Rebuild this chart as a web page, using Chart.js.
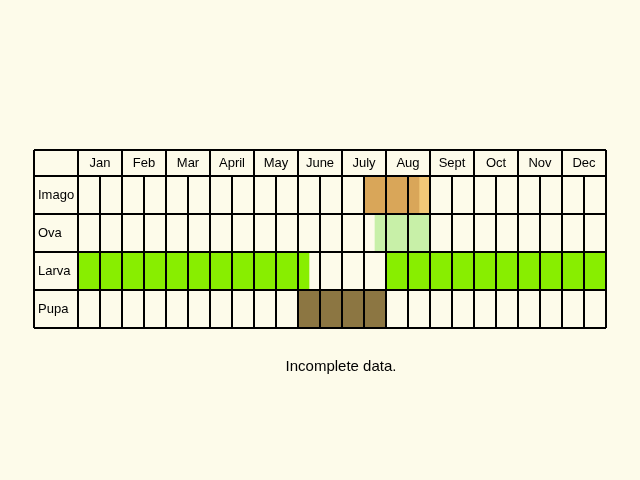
<!DOCTYPE html>
<html>
<head>
<meta charset="utf-8">
<script src="https://cdn.jsdelivr.net/npm/chart.js@4"></script>
<style>
  html, body { margin: 0; padding: 0; background: #fdfbea; }
  #wrap { width: 640px; height: 480px; position: relative; }
</style>
</head>
<body>
<div id="wrap"><canvas id="c" width="640" height="480"></canvas></div>
<script>
// rows and months; x values in half-month steps (Jan = 0..2)
const rows = ["Imago", "Ova", "Larva", "Pupa"];
const months = ["Jan", "Feb", "Mar", "April", "May", "June", "July", "Aug", "Sept", "Oct", "Nov", "Dec"];

const imagoMain = [[13, 15.5], null, null, null];
const imagoLate = [[15.5, 16], null, null, null];
const ovaSpan = [null, [13.5, 16], null, null];
const larvaEarly = [null, null, [0, 10.5], null];
const larvaLate = [null, null, [14, 24], null];
const pupaSpan = [null, null, null, [10, 14]];

const LINE = "#000";

const gridPlugin = {
  id: "grid",
  afterDatasetsDraw(chart) {
    const ctx = chart.ctx;
    const xs = chart.scales.x, ys = chart.scales.y;
    const left = 34, headTop = 150;
    const x0 = xs.getPixelForValue(0), x1 = xs.getPixelForValue(24);
    const top = ys.getPixelForValue(-0.5), bottom = ys.getPixelForValue(rows.length - 0.5);
    ctx.save();
    ctx.strokeStyle = LINE;
    ctx.lineWidth = 2;
    // horizontal lines
    ctx.beginPath();
    ctx.moveTo(left, headTop); ctx.lineTo(x1, headTop);
    for (let i = 0; i <= rows.length; i++) {
      const y = ys.getPixelForValue(i - 0.5);
      ctx.moveTo(left, y); ctx.lineTo(x1, y);
    }
    // vertical lines
    ctx.moveTo(left, headTop); ctx.lineTo(left, bottom);
    for (let i = 0; i <= 24; i++) {
      const x = xs.getPixelForValue(i);
      ctx.moveTo(x, i % 2 === 0 ? headTop : top);
      ctx.lineTo(x, bottom);
    }
    ctx.stroke();
    // texts
    ctx.fillStyle = "#000";
    ctx.font = "13px 'Liberation Sans', Arial, sans-serif";
    ctx.textBaseline = "middle";
    ctx.textAlign = "center";
    for (let m = 0; m < months.length; m++) {
      ctx.fillText(months[m], xs.getPixelForValue(m * 2 + 1), (headTop + top) / 2);
    }
    ctx.textAlign = "left";
    for (let r = 0; r < rows.length; r++) {
      ctx.fillText(rows[r], 38, ys.getPixelForValue(r));
    }
    ctx.font = "15px 'Liberation Sans', Arial, sans-serif";
    ctx.textAlign = "center";
    ctx.fillText("Incomplete data.", 341, 367);
    ctx.restore();
  }
};

function ds(data, color) {
  return { data: data, backgroundColor: color, borderWidth: 0, barPercentage: 1, categoryPercentage: 1, grouped: false };
}

new Chart(document.getElementById("c"), {
  type: "bar",
  data: {
    labels: rows,
    datasets: [
      ds(imagoMain, "#d9a659"),
      ds(imagoLate, "#f2c878"),
      ds(ovaSpan, "#c8f0a8"),
      ds(larvaEarly, "#88ee00"),
      ds(larvaLate, "#88ee00"),
      ds(pupaSpan, "#8c7642")
    ]
  },
  options: {
    indexAxis: "y",
    responsive: false,
    animation: false,
    layout: { padding: { left: 78, right: 34, top: 176, bottom: 152 } },
    plugins: { legend: { display: false }, tooltip: { enabled: false } },
    scales: {
      x: { type: "linear", min: 0, max: 24, display: false },
      y: { display: false }
    }
  },
  plugins: [gridPlugin]
});
</script>
</body>
</html>
